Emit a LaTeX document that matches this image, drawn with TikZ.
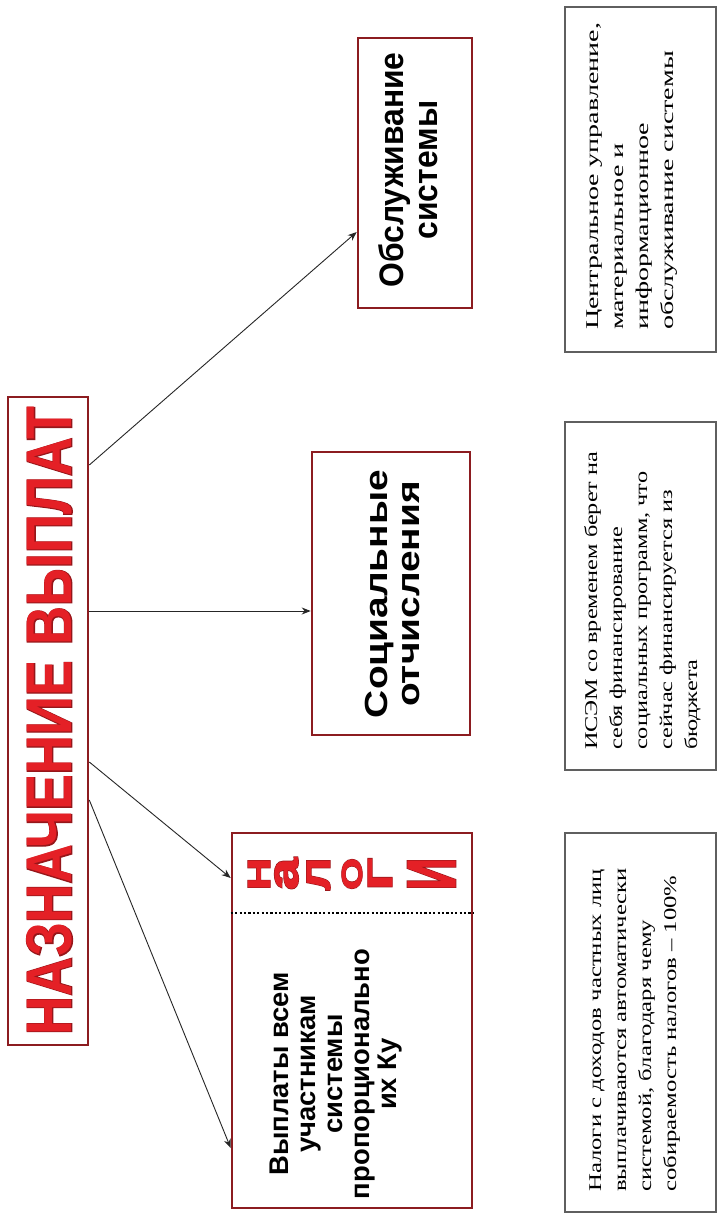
\documentclass[tikz,border=0pt]{standalone}
\usepackage{graphicx}
\usepackage{fontspec}
\setmainfont{Liberation Serif}
\newfontfamily\boxsans{Liberation Sans}
\newfontfamily\headfont{Liberation Sans}
\newfontfamily\headfontout{Liberation Sans}[BoldFeatures={FakeBold=2.5}]
\newfontfamily\glyphfont{Liberation Sans}[BoldFeatures={FakeBold=1.5}]
\newfontfamily\glyphfontout{Liberation Sans}[BoldFeatures={FakeBold=4}]
\usetikzlibrary{arrows.meta,calc}

\definecolor{frame}{RGB}{140,28,32}
\definecolor{headred}{RGB}{228,32,38}
\definecolor{headedge}{RGB}{150,22,26}
\definecolor{notegray}{RGB}{95,95,95}

\tikzset{
  redbox/.style={draw=frame, line width=2.6pt, inner sep=0pt, fill=white},
  notebox/.style={draw=notegray, line width=1.1pt, inner sep=0pt, fill=white},
  link/.style={draw=black!85, line width=0.9pt, -{Stealth[length=9pt,width=7pt]}},
  vtext/.style={rotate=90, inner sep=0pt},
  sepline/.style={draw=black, line width=2.2pt, dash pattern=on 2.2pt off 2.2pt},
  sanslabel/.style={vtext, font=\boxsans\bfseries\fontsize{#1}{#1}\selectfont},
  notetext/.style={vtext, anchor=north west, font=\fontsize{18}{25}\selectfont},
}

% one stacked red letter of the "tax" heading: name, x, extent, glyph
\newcommand\heavyglyph[4]{%
  \node[vtext, text=headedge] (#1o) at (#2,874) {\resizebox{32pt}{#3pt}{\glyphfontout\bfseries #4}};
  \node[vtext, text=headred] (#1) at (#2,874) {\resizebox{32pt}{#3pt}{\glyphfont\bfseries #4}};}

\begin{document}
\begin{tikzpicture}[x=1pt, y=-1pt]
  \useasboundingbox[fill=white] (0,0) rectangle (720,1216);

  % frames
  \node[redbox, minimum width=80pt,  minimum height=648pt] (title) at (48,721) {};
  \node[redbox, minimum width=114pt, minimum height=270pt] (obs)   at (415,173) {};
  \node[redbox, minimum width=158pt, minimum height=283pt] (soc)   at (391,593.5) {};
  \node[redbox, minimum width=240pt, minimum height=375pt] (nal)   at (352,1020.5) {};
  \node[notebox, minimum width=151pt, minimum height=345pt] (n1) at (640.5,179.5) {};
  \node[notebox, minimum width=151pt, minimum height=348pt] (n2) at (640.5,596) {};
  \node[notebox, minimum width=151pt, minimum height=379pt] (n3) at (640.5,1022.5) {};

  % heading
  \node[vtext, text=headedge] (headshadow) at (49.5,721)
    {\resizebox{628pt}{45pt}{\headfontout\bfseries НАЗНАЧЕНИЕ ВЫПЛАТ}};
  \node[vtext, text=headred] (head) at (49.5,721)
    {\resizebox{628pt}{45pt}{\headfont\bfseries НАЗНАЧЕНИЕ ВЫПЛАТ}};

  % box captions
  \node[sanslabel=34] (obstext) at (413.5,170)
    {\resizebox{235pt}{\height}{\begin{tabular}{@{}c@{}}Обслуживание\\системы\end{tabular}}};
  \node[sanslabel=32] (soctext) at (397,594)
    {\resizebox{248pt}{\height}{\begin{tabular}{@{}c@{}}Социальные\\отчисления\end{tabular}}};
  \node[sanslabel=27] (paytext) at (337.5,1074)
    {\resizebox{250pt}{\height}{\begin{tabular}{@{}c@{}}Выплаты всем\\участникам\\системы\\пропорционально\\их Ку\end{tabular}}};

  % stacked heading of the tax box
  \heavyglyph{g1}{259}{22}{Н}
  \heavyglyph{g2}{286.5}{23}{а}
  \heavyglyph{g3}{318.5}{23}{Л}
  \heavyglyph{g4}{352}{20}{О}
  \heavyglyph{g5}{380}{24}{Г}
  \heavyglyph{g6}{431.5}{47}{И}

  \draw[sepline] (nal.west |- 0,913) -- (nal.east |- 0,913);

  % notes
  \node[notetext] (note1) at (580.5,330)
    {\resizebox{307pt}{\height}{\begin{tabular}{@{}l@{}}Центральное управление,\\материальное и\\информационное\\обслуживание системы\end{tabular}}};
  \node[notetext] (note2) at (579.5,750)
    {\resizebox{298pt}{\height}{\begin{tabular}{@{}l@{}}ИСЭМ со временем берет на\\себя финансирование\\социальных программ, что\\сейчас финансируется из\\бюджета\end{tabular}}};
  \node[notetext] (note3) at (583.5,1192)
    {\resizebox{324pt}{\height}{\begin{tabular}{@{}l@{}}Налоги с доходов частных лиц\\выплачиваются автоматически\\системой, благодаря чему\\собираемость налогов – 100\%\end{tabular}}};

  % connectors
  \draw[link] ([yshift=256pt]title.east) -- ([yshift=-59pt]obs.west);
  \draw[link] ([yshift=110pt]title.east) coordinate (h0) -- (soc.west |- h0);
  \draw[link] ([yshift=-41pt]title.east) -- ([yshift=142.5pt]nal.west);
  \draw[link] ([yshift=-79pt]title.east) -- ([yshift=-127.5pt]nal.west);
\end{tikzpicture}
\end{document}
